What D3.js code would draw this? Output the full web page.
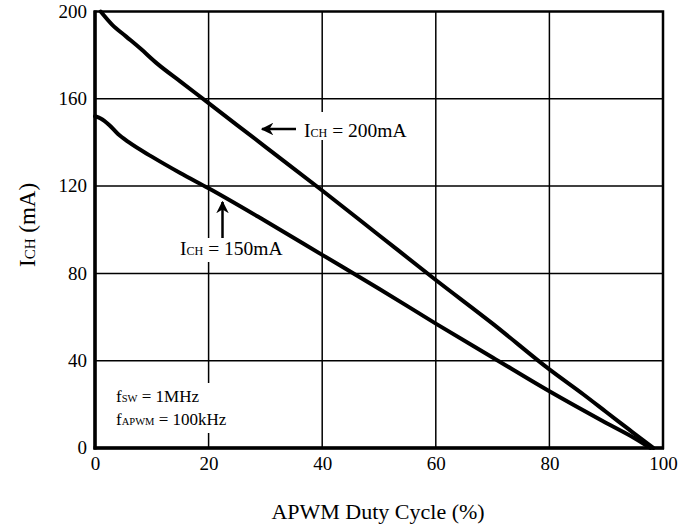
<!DOCTYPE html>
<html><head><meta charset="utf-8">
<script src="https://cdn.jsdelivr.net/npm/d3@7"></script>
<style>body{margin:0;background:#fff}svg{display:block}text{font-family:"Liberation Serif","Times New Roman",serif;fill:#000}</style>
</head><body><svg id="c" width="689" height="531"></svg>
<script>
const xTicks = [0, 20, 40, 60, 80, 100];
const yTicks = [0, 40, 80, 120, 160, 200];
const duty200 = [1, 3, 5.5, 8, 11, 15, 20, 30, 40, 50, 60, 70, 80, 86, 90, 94, 96, 98.3];
const ich200  = [200, 194, 188.5, 183, 176, 168, 158, 138, 118, 97.5, 77, 57, 36, 24.5, 16.5, 8.5, 4.5, 0];
const duty150 = [0, 1, 2.5, 4, 6, 10, 15, 20, 30, 40, 50, 60, 70, 80, 90, 95, 97.8];
const ich150  = [152, 151, 148, 144, 140, 133.5, 126, 119, 104, 88.5, 73, 57, 41.5, 26, 11.5, 4.5, 0];

const svg = d3.select("#c");
const L = 95, R = 663, T = 11.5, B = 448;
const x = d3.scaleLinear().domain([0, 100]).range([L, R]);
const y = d3.scaleLinear().domain([0, 200]).range([B, T]);

// grid
const g = svg.append("g");
g.selectAll(".vg").data(xTicks.slice(1, -1)).enter().append("line")
  .attr("x1", d => x(d)).attr("x2", d => x(d)).attr("y1", T).attr("y2", B)
  .attr("stroke", "#000").attr("stroke-width", 1.5);
g.selectAll(".hg").data(yTicks.slice(1, -1)).enter().append("line")
  .attr("y1", d => y(d)).attr("y2", d => y(d)).attr("x1", L).attr("x2", R)
  .attr("stroke", "#000").attr("stroke-width", 1.5);

// axes labels via d3 axes
const xAxis = svg.append("g").attr("transform", `translate(0,${B})`)
  .call(d3.axisBottom(x).tickValues(xTicks).tickSize(0).tickPadding(9));
const yAxis = svg.append("g").attr("transform", `translate(${L},0)`)
  .call(d3.axisLeft(y).tickValues(yTicks).tickSize(0).tickPadding(8));
[xAxis, yAxis].forEach(a => {
  a.select(".domain").remove();
  a.selectAll("text").style("font-family", '"Liberation Serif",serif').style("font-size", "19px").attr("fill", "#000");
});
yAxis.selectAll("text").attr("dy", "0.3em");

// white backgrounds behind annotations (break the gridlines)
svg.append("rect").attr("x", 112).attr("y", 383).attr("width", 140).attr("height", 50).attr("fill", "#fff");
svg.append("rect").attr("x", 300).attr("y", 112).attr("width", 118).attr("height", 28).attr("fill", "#fff");
svg.append("rect").attr("x", 178).attr("y", 238).attr("width", 104).attr("height", 24).attr("fill", "#fff");

// curves
const line = d3.line().x(d => x(d[0])).y(d => y(d[1])).curve(d3.curveMonotoneX);
[[duty200, ich200], [duty150, ich150]].forEach(([dx, dy]) => {
  svg.append("path").datum(dx.map((v, i) => [v, dy[i]]))
    .attr("d", line).attr("fill", "none").attr("stroke", "#000")
    .attr("stroke-width", 4).attr("stroke-linejoin", "round").attr("stroke-linecap", "round");
});

// frame
svg.append("rect").attr("x", L).attr("y", T).attr("width", R - L).attr("height", B - T)
  .attr("fill", "none").attr("stroke", "#000").attr("stroke-width", 2.5);
svg.append("line").attr("x1", L).attr("x2", L).attr("y1", T - 1).attr("y2", B + 1.5).attr("stroke", "#000").attr("stroke-width", 3.5);
svg.append("line").attr("x1", L - 1.5).attr("x2", R + 1).attr("y1", B).attr("y2", B).attr("stroke", "#000").attr("stroke-width", 3.5);

// annotation helper
function label(xp, yp, main, sub, rest, size) {
  const t = svg.append("text").attr("x", xp).attr("y", yp).style("font-size", size + "px");
  t.append("tspan").text(main);
  t.append("tspan").style("font-size", (size * 0.62) + "px").text(sub);
  t.append("tspan").text(rest);
  return t;
}
label(304, 137, "I", "CH", " = 200mA", 19.5);
label(180, 255, "I", "CH", " = 150mA", 19.5);
label(116, 402, "f", "SW", " = 1MHz", 17);
label(116, 425, "f", "APWM", " = 100kHz", 17);

// arrows
svg.append("defs").append("marker").attr("id", "ah").attr("viewBox", "0 0 10 10")
  .attr("refX", 9).attr("refY", 5).attr("markerWidth", 5).attr("markerHeight", 5)
  .attr("orient", "auto").append("path").attr("d", "M0,0 L10,5 L0,10 L3,5 Z").attr("fill", "#000");
svg.append("line").attr("x1", 296).attr("y1", 129).attr("x2", 262).attr("y2", 129)
  .attr("stroke", "#000").attr("stroke-width", 2.5).attr("marker-end", "url(#ah)");
svg.append("line").attr("x1", 222.5).attr("y1", 238).attr("x2", 222.5).attr("y2", 202)
  .attr("stroke", "#000").attr("stroke-width", 2.5).attr("marker-end", "url(#ah)");

// axis titles
svg.append("text").attr("x", (L + R) / 2 - 1).attr("y", 519).attr("text-anchor", "middle")
  .style("font-size", "22px").text("APWM Duty Cycle (%)");
const yt = svg.append("text").attr("transform", "translate(35,267) rotate(-90)").style("font-size", "23px");
yt.append("tspan").text("I");
yt.append("tspan").style("font-size", "15px").text("CH");
yt.append("tspan").text(" (mA)");
</script></body></html>
